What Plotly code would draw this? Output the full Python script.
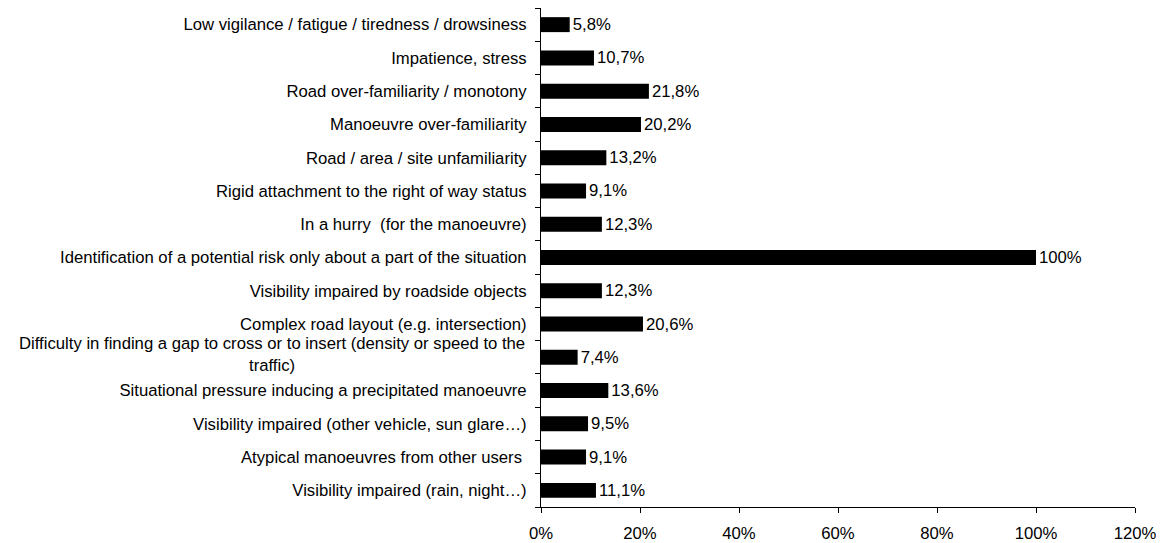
import plotly.graph_objects as go

# categories, top to bottom as in the chart
factors = [
    "Low vigilance / fatigue / tiredness / drowsiness",
    "Impatience, stress",
    "Road over-familiarity / monotony",
    "Manoeuvre over-familiarity",
    "Road / area / site unfamiliarity",
    "Rigid attachment to the right of way status",
    "In a hurry  (for the manoeuvre)",
    "Identification of a potential risk only about a part of the situation",
    "Visibility impaired by roadside objects",
    "Complex road layout (e.g. intersection)",
    "Difficulty in finding a gap to cross or to insert (density or speed to the<br>traffic)",
    "Situational pressure inducing a precipitated manoeuvre",
    "Visibility impaired (other vehicle, sun glare…)",
    "Atypical manoeuvres from other users ",
    "Visibility impaired (rain, night…)",
]
percent = [5.8, 10.7, 21.8, 20.2, 13.2, 9.1, 12.3, 100, 12.3, 20.6, 7.4, 13.6, 9.5, 9.1, 11.1]
x_ticks = [0, 20, 40, 60, 80, 100, 120]

labels = [("%d%%" % v) if v == int(v) else ("%.1f%%" % v).replace(".", ",") for v in percent]

font = "Liberation Sans, Arial, sans-serif"
fsize = 16.7

fig = go.Figure(go.Bar(
    x=percent,
    y=factors,
    orientation="h",
    width=0.45,
    marker=dict(color="black", line=dict(width=0)),
    text=labels,
    textposition="outside",
    constraintext="none",
    textfont=dict(size=fsize, color="black", family=font),
    cliponaxis=False,
))

# multi-line labels are drawn as centred annotations, the rest as tick labels
tick_text = []
for f in factors:
    if "<br>" in f:
        tick_text.append("")
        fig.add_annotation(
            x=0, xref="paper", xanchor="right", xshift=-14,
            y=f, yref="y", yanchor="middle", yshift=3,
            text=f, align="center", showarrow=False,
            font=dict(size=fsize, color="black", family=font),
        )
    else:
        tick_text.append(f)

# the page body adds 8px around the figure, so margins are shifted by that
fig.update_layout(
    width=1164,
    height=543,
    margin=dict(l=533, r=37, t=0, b=44),
    plot_bgcolor="white",
    paper_bgcolor="white",
    font=dict(family=font, size=fsize, color="black"),
    showlegend=False,
)

fig.update_xaxes(
    range=[0, 120],
    tickvals=x_ticks,
    ticktext=["%d%%" % t for t in x_ticks],
    showgrid=False,
    zeroline=False,
    showline=True,
    linecolor="black",
    linewidth=1,
    ticks="outside",
    ticklen=5,
    tickcolor="black",
    ticklabelstandoff=6,
)

fig.update_yaxes(
    autorange="reversed",
    tickvals=factors,
    ticktext=tick_text,
    showgrid=False,
    showline=True,
    linecolor="black",
    linewidth=1,
    ticks="outside",
    ticklen=5,
    tickcolor="black",
    tickson="boundaries",
    ticklabelstandoff=10,
)

fig.write_html("out.html")
